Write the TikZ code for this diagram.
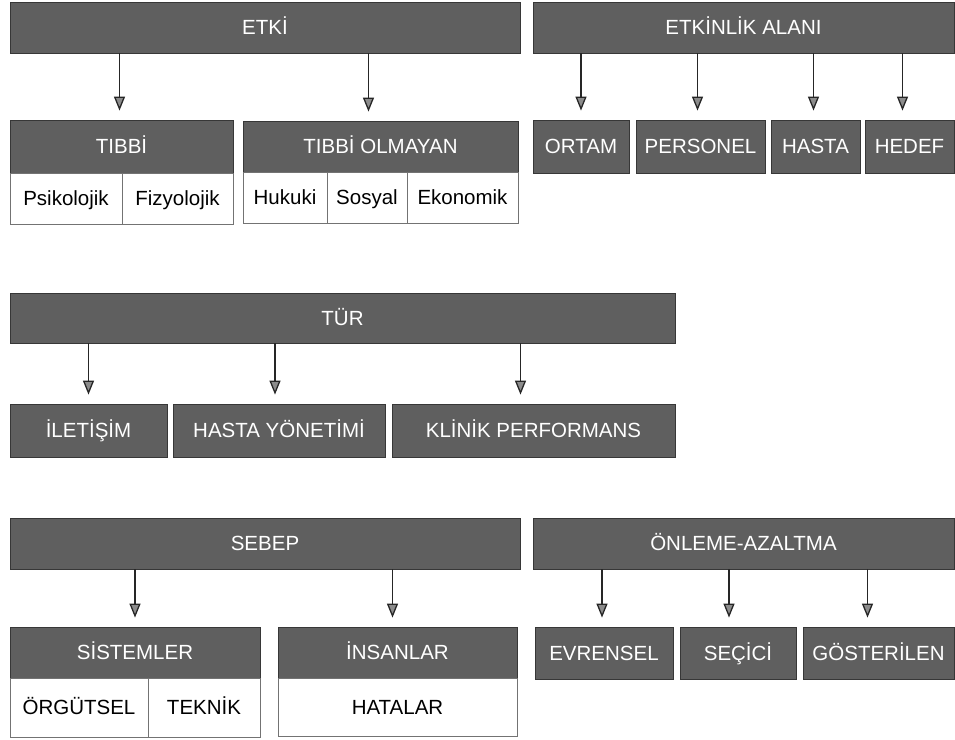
\documentclass[tikz,border=0pt]{standalone}
\usepackage{fontspec}
\setmainfont{Liberation Sans}
\usetikzlibrary{arrows.meta,fit}
\definecolor{barfill}{RGB}{95,95,95}
\definecolor{barline}{RGB}{55,55,55}
\definecolor{tipfill}{RGB}{140,140,140}
\tikzset{
    bar/.style={fill=barfill, draw=barline, line width=0.8pt, inner sep=0pt,
        label={[text=white, font=\fontsize{20.5}{22}\selectfont, inner sep=0pt,
            text height=14.7pt, text depth=0pt]center:#1}},
    cell/.style={fill=white, draw=black!55, line width=0.8pt, inner sep=0pt,
        label={[font=\fontsize{20.5}{22}\selectfont, inner sep=0pt,
            text height=14.7pt, text depth=0pt]center:#1}},
    link/.style={draw=black!85, line width=1.3pt, shorten >=9pt,
        -{Triangle[length=14pt,width=11pt,fill=tipfill]}}
}
\begin{document}
\begin{tikzpicture}[x=1pt,y=-1pt]
    \useasboundingbox (0,0) rectangle (955,739);

    \node[bar=ETKİ, fit={(10,2) (520,53)}] (etki) {};
    \node[bar=ETKİNLİK ALANI, fit={(533,2) (954,53)}] (alan) {};
    \node[bar=TÜR, fit={(10,293) (675,343)}] (tur) {};
    \node[bar=SEBEP, fit={(10,518) (520,569)}] (sebep) {};
    \node[bar=ÖNLEME-AZALTMA, fit={(533,518) (954,569)}] (onleme) {};

    \node[bar=TIBBİ, fit={(10,120) (233,173)}] (tibbi) {};
    \node[cell=Psikolojik, fit={(10,173) (122,224)}] (psiko) {};
    \node[cell=Fizyolojik, fit={(122,173) (233,224)}] (fizyo) {};
    \node[bar=TIBBİ OLMAYAN, fit={(243,121) (518,172)}] (tibbiol) {};
    \node[cell=Hukuki, fit={(243,172) (327,223)}] (hukuki) {};
    \node[cell=Sosyal, fit={(327,172) (407,223)}] (sosyal) {};
    \node[cell=Ekonomik, fit={(407,172) (518,223)}] (ekonomik) {};

    \node[bar=SİSTEMLER, fit={(10,627) (260,678)}] (sistem) {};
    \node[cell=ÖRGÜTSEL, fit={(10,678) (148,737)}] (orgut) {};
    \node[cell=TEKNİK, fit={(148,678) (260,737)}] (teknik) {};
    \node[bar=İNSANLAR, fit={(278,627) (517,678)}] (insan) {};
    \node[cell=HATALAR, fit={(278,678) (517,736)}] (hata) {};

    \foreach \nm/\xa/\xb/\txt in {ortam/533/629/ORTAM, personel/636/765/PERSONEL,
        hasta/771/860/HASTA, hedef/865/954/HEDEF}
        \node[bar=\txt, fit={(\xa,120) (\xb,173)}] (\nm) {};
    \foreach \nm/\xa/\xb/\txt in {iletisim/10/167/İLETİŞİM, yonetim/173/385/HASTA YÖNETİMİ,
        klinik/392/675/KLİNİK PERFORMANS}
        \node[bar=\txt, fit={(\xa,404) (\xb,457)}] (\nm) {};
    \foreach \nm/\xa/\xb/\txt in {evrensel/535/673/EVRENSEL, secici/680/796/SEÇİCİ,
        gosteri/803/954/GÖSTERİLEN}
        \node[bar=\txt, fit={(\xa,627) (\xb,679)}] (\nm) {};

    \foreach \src/\dst/\dx in {etki/tibbi/-2, etki/tibbiol/-12,
        alan/ortam/0, alan/personel/-3, alan/hasta/-2, alan/hedef/-7,
        tur/iletisim/0, tur/yonetim/-4, tur/klinik/-13,
        sebep/sistem/0, sebep/insan/-5,
        onleme/evrensel/-2, onleme/secici/-9, onleme/gosteri/-11}
        \draw[link] ([xshift=\dx pt]\dst.north |- \src.south) -- ([xshift=\dx pt]\dst.north);
\end{tikzpicture}
\end{document}
